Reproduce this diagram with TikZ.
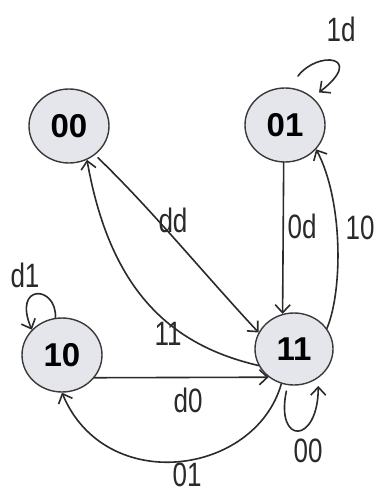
\documentclass[tikz,border=0pt]{standalone}
\usepackage{fontspec}
\usetikzlibrary{shapes.geometric,arrows.meta}
\newfontfamily\statefont{Liberation Sans}
\definecolor{inkc}{HTML}{2A2A2A}
\definecolor{statefill}{HTML}{E4E6EC}
\definecolor{stateline}{HTML}{3A3A3A}
\newcommand{\hw}[1]{\scalebox{1}[1.3]{#1}}
\tikzset{
  state/.style={ellipse, draw=stateline, line width=1.4pt, fill=statefill,
    minimum width=80pt, minimum height=74pt, inner sep=0pt,
    font=\statefont\bfseries\fontsize{33}{33}\selectfont, text=black},
  edge/.style={draw=inkc, line width=1.6pt, line cap=round,
    -{Straight Barb[length=8pt,width=15pt,line width=1.6pt]}},
  lbl/.style={text=inkc, inner sep=0pt, font=\statefont\fontsize{26}{26}\selectfont}
}
\begin{document}
\begin{tikzpicture}[x=1pt,y=-1pt]
\useasboundingbox (0,0) rectangle (376,494);
\fill[white] (0,0) rectangle (376,494);

\node[state] (s00) at (69,126) {00};
\node[state] (s01) at (285,125) {01};
\node[state] (s10) at (62,355) {10};
\node[state, minimum width=78pt, minimum height=72pt] (s11) at (294,349) {11};

% 00 -> 11 (dd)
\draw[edge, shorten <=4pt] (s00.-48) .. controls (152,210) and (205,275) .. (s11.155);
% 11 -> 00 (11)
\draw[edge] (s11.205) .. controls (170,345) and (110,290) .. (s00.-62);
% 01 -> 11 (0d)
\draw[edge] (s01.-92) -- (s11.108);
% 11 -> 01 (10)
\draw[edge] (s11.32) .. controls (343,290) and (343,200) .. (s01.-38);
% 01 self loop (1d)
\coordinate (l01) at (298,76);
\draw[edge, shorten >=8pt] (l01) .. controls (318,50) and (366,56) .. (s01.45);
% 10 self loop (d1)
\draw[edge] (s10.100) .. controls (57,285) and (12,283) .. (s10.140);
% 10 -> 11 (d0)
\draw[edge] (s10.-35) -- (s11.-132);
% 11 -> 10 (01)
\draw[edge] (s11.-110) .. controls (255,476) and (105,496) .. (s10.-90);
% 11 self loop (00)
\draw[edge, shorten <=6pt, shorten >=8pt] (s11.-100) .. controls (275,445) and (318,445) .. (s11.-50);

% labels
\node[lbl] (t1d) at (341,29) {\hw{1d}};
\node[lbl] (tdd) at (173,220) {\hw{dd}};
\node[lbl] (t0d) at (302,226) {\hw{0d}};
\node[lbl] (t10) at (360,228) {\hw{10}};
\node[lbl] (td1) at (25,275) {\hw{d1}};
\node[lbl] (t11) at (168,334) {\hw{11}};
\node[lbl] (td0) at (188,400) {\hw{d0}};
\node[lbl] (t00) at (308,451) {\hw{00}};
\node[lbl] (t01) at (187,475) {\hw{01}};
\end{tikzpicture}
\end{document}
